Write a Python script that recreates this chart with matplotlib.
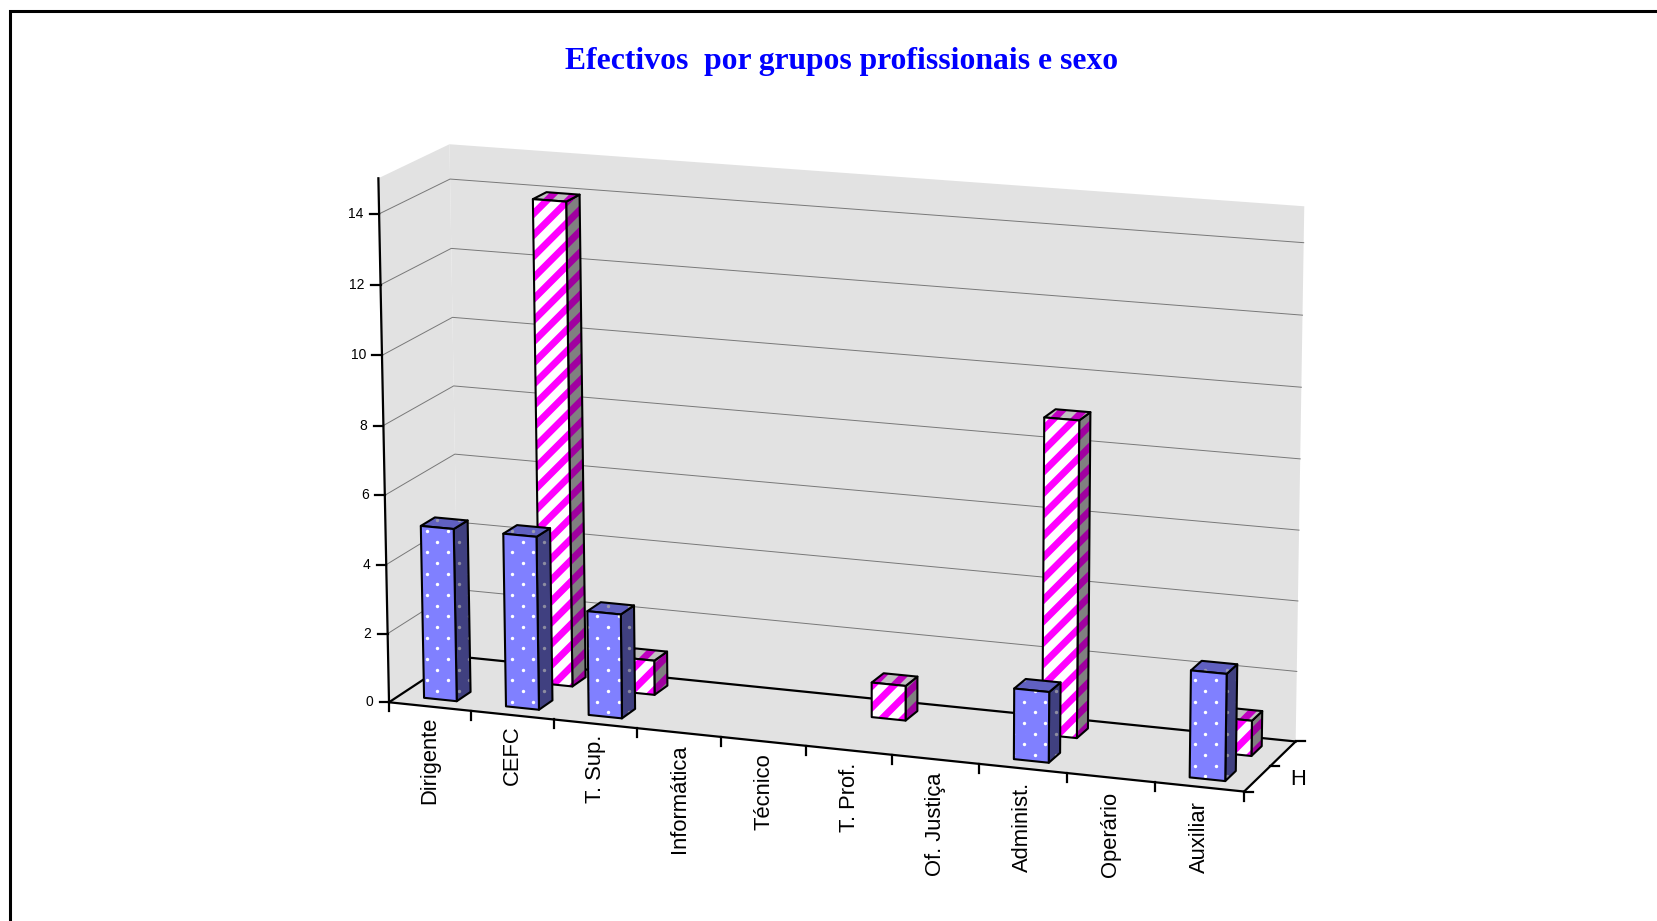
import numpy as np
import matplotlib
matplotlib.use("Agg")
import matplotlib.pyplot as plt
from matplotlib.patches import Polygon
from matplotlib.collections import LineCollection

categories = ["Dirigente", "CEFC", "T. Sup.", "Informática", "Técnico",
              "T. Prof.", "Of. Justiça", "Administ.", "Operário", "Auxiliar"]
homens = [5, 5, 3, 0, 0, 0, 0, 2, 0, 3]
mulheres = [0, 14, 1, 0, 0, 1, 0, 9, 0, 1]
y_ticks = [0, 2, 4, 6, 8, 10, 12, 14]
y_max = 15
title = "Efectivos  por grupos profissionais e sexo"
series_label = "H"

W, H = 1657, 921
fig = plt.figure(figsize=(W / 100, H / 100), dpi=100, facecolor="white")
ax = fig.add_axes([0, 0, 1, 1])
ax.set_xlim(0, W)
ax.set_ylim(H, 0)
ax.axis("off")

# Calibration of the chart's 3D box: (u, v, value/ymax) -> pixel
calib = [
    ((0, 0, 0), (389, 702)), ((1, 0, 0), (1244, 792)),
    ((0, 1, 0), (458.5, 657)), ((1, 1, 0), (1295.7, 741)),
    ((0, 0, 1), (378.3, 179.3)), ((0, 1, 1), (449.3, 145)),
    ((1, 1, 1), (1305, 206.7)),
    ((0, 0, 14 / 15), (379.3, 212.7)), ((0, 1, 14 / 15), (450, 178.3)),
    ((1, 1, 14 / 15), (1303, 242.3)),
]
A = []
for (u, v, z), (x, y) in calib:
    x, y = x / 1000, y / 1000
    A.append([u, v, z, 1, 0, 0, 0, 0, -x * u, -x * v, -x * z, -x])
    A.append([0, 0, 0, 0, u, v, z, 1, -y * u, -y * v, -y * z, -y])
P = np.linalg.svd(np.array(A))[2][-1].reshape(3, 4)


def proj(c, s, val):
    """c in category units, s in depth 0..1, val in data units."""
    h = P @ np.array([c / len(categories), s, val / y_max, 1.0])
    return 1000 * h[0] / h[2], 1000 * h[1] / h[2]


WALL = "#e2e2e2"
n = len(categories)
# walls and floor
ax.add_patch(Polygon([proj(0, 0, 0), proj(0, 0, y_max), proj(0, 1, y_max), proj(0, 1, 0)], fc=WALL, ec="none", zorder=1))
ax.add_patch(Polygon([proj(0, 1, 0), proj(0, 1, y_max), proj(n, 1, y_max), proj(n, 1, 0)], fc=WALL, ec="none", zorder=1))
ax.add_patch(Polygon([proj(0, 0, 0), proj(n, 0, 0), proj(n, 1, 0), proj(0, 1, 0)], fc=WALL, ec="none", zorder=1))

# gridlines
for t in y_ticks[1:]:
    pts = [proj(0, 0, t), proj(0, 1, t), proj(n, 1, t)]
    ax.plot(*zip(*pts), color="#787878", lw=0.7, zorder=2)

# axes
AX = dict(color="black", lw=1.6, zorder=3, solid_capstyle="projecting")
ax.plot(*zip(proj(0, 0, 0), proj(0, 0, y_max)), **AX)
ax.plot(*zip(proj(0, 0, 0), proj(n, 0, 0)), **AX)
ax.plot(*zip(proj(0, 0, 0), proj(0, 1, 0)), **AX)
ax.plot(*zip(proj(n, 0, 0), proj(n, 1, 0)), **AX)
ax.plot(*zip(proj(0, 1, 0), proj(n, 1, 0)), **AX)

# y ticks
for t in y_ticks:
    x, y = proj(0, 0, t)
    ax.plot([x - 9.5, x], [y, y], **AX)
    ax.text(x - 16, y, str(t), ha="right", va="center", fontsize=10,
            family="Liberation Sans", zorder=3)

# category ticks and labels
for i in range(n + 1):
    x, y = proj(i, 0, 0)
    ax.plot([x, x], [y, y + 9], **AX)
for i, lab in enumerate(categories):
    x, y = proj(i + 0.5, 0, 0)
    ax.text(x, y + 10 + 0.5 * i, lab, rotation=90, ha="center", va="top", fontsize=15.8,
            family="Liberation Sans", zorder=3)

# depth ticks and label
for s in (0, 0.5, 1):
    x, y = proj(n, s, 0)
    ax.plot([x, x + 9], [y, y], **AX)
x, y = proj(n, 0.25, 0)
ax.text(x + 41, y + 1, series_label, ha="center", va="center", fontsize=15.8,
        family="Liberation Sans", zorder=3)

zo = [10]
STRIPE_C = 0.6
STRIPE_PER = 21.333


def face(pts, fc, pat, kind):
    zo[0] += 1
    z = zo[0]
    poly = Polygon(pts, fc=fc, ec="none", zorder=z)
    ax.add_patch(poly)
    xs, ys = zip(*pts)
    x0, x1, y0, y1 = min(xs), max(xs), min(ys), max(ys)
    if kind == "dots":
        px, py = [], []
        for k in range(int((y0 - 531) // 10.667) - 1, int((y1 - 531) // 10.667) + 2):
            yy = 531 + k * 10.667
            off = 426.7 + (10.667 if k % 2 else 0)
            for m in range(int((x0 - off) // 21.333) - 1, int((x1 - off) // 21.333) + 2):
                px.append(off + m * 21.333)
                py.append(yy)
        sc = ax.scatter(px, py, s=6, c=pat, linewidths=0, zorder=z + 0.1)
        sc.set_clip_path(poly)
    else:
        segs = []
        for k in range(int((x0 + y0 - STRIPE_C) // STRIPE_PER) - 2, int((x1 + y1 - STRIPE_C) // STRIPE_PER) + 3):
            c = STRIPE_C + k * STRIPE_PER
            segs.append([(x0 - 30, c - x0 + 30), (x1 + 30, c - x1 - 30)])
        lc = LineCollection(segs, colors=pat, linewidths=5.0, zorder=z + 0.1, capstyle="butt")
        ax.add_collection(lc)
        lc.set_clip_path(poly)
    zo[0] += 1
    ax.add_patch(Polygon(pts, fc="none", ec="black", lw=1.5, joinstyle="round", zorder=zo[0]))


STYLE = {
    0: dict(kind="dots", front=("#8080ff", "white"), side=("#404080", "#8c8ca0"), top=("#6060c0", "#9a9ab0")),
    1: dict(kind="stripes", front=("white", "#ff00ff"), side=("#808080", "#a000a0"), top=("#c0c0c0", "#c000c0")),
}
# back row first, left to right
for j, vals in [(1, mulheres), (0, homens)]:
    st = STYLE[j]
    s0, s1 = j * 0.5 + 0.15, j * 0.5 + 0.35
    for i, val in enumerate(vals):
        if val == 0:
            continue
        c0, c1 = i + 0.3, i + 0.7
        face([proj(c1, s0, 0), proj(c1, s1, 0), proj(c1, s1, val), proj(c1, s0, val)], st["side"][0], st["side"][1], st["kind"])
        face([proj(c0, s0, val), proj(c1, s0, val), proj(c1, s1, val), proj(c0, s1, val)], st["top"][0], st["top"][1], st["kind"])
        face([proj(c0, s0, 0), proj(c1, s0, 0), proj(c1, s0, val), proj(c0, s0, val)], st["front"][0], st["front"][1], st["kind"])

# title
ax.text(841.5, 69.3, title, ha="center", va="baseline", fontsize=22.8, fontweight="bold",
        family="Liberation Serif", color="#0000ff", zorder=30)

# outer border (left and top run to the image edge)
ax.plot([9.5, 9.5, W + 5], [H + 5, 11.5, 11.5], color="black", lw=2.2, zorder=40, solid_joinstyle="miter")

fig.savefig("out.png", dpi=100, facecolor="white")
